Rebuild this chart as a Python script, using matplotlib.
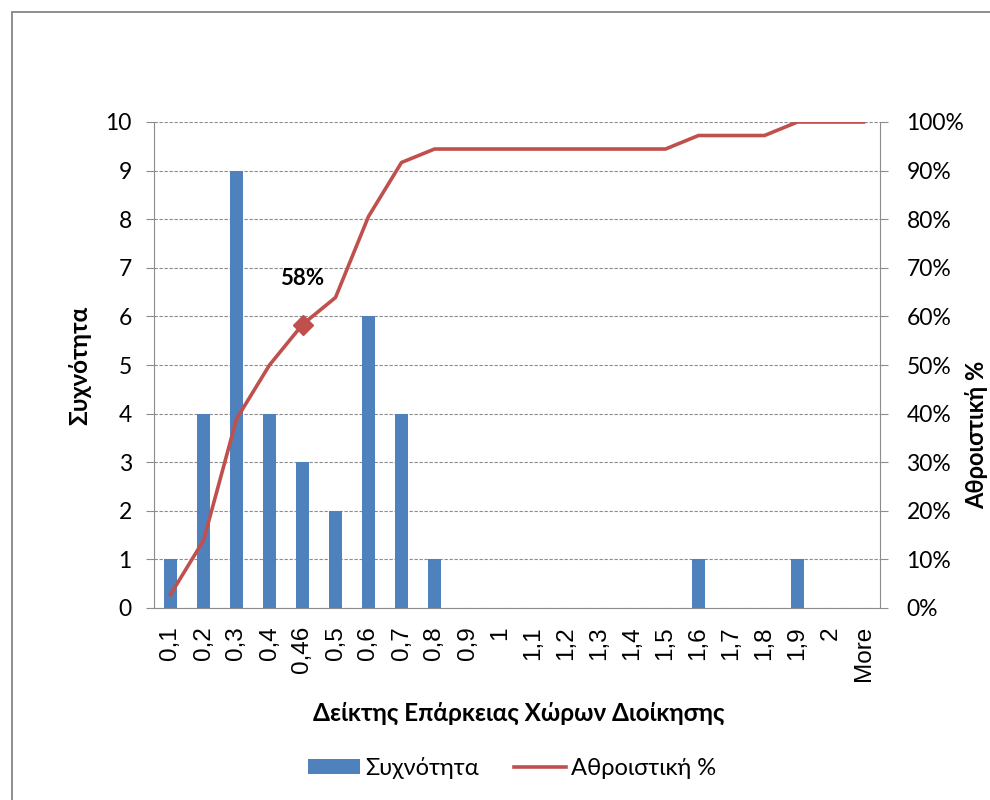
import numpy as np
import matplotlib.pyplot as plt
from matplotlib.patches import Rectangle

# =============================================================================
# Data
# =============================================================================
bins = ['0,1', '0,2', '0,3', '0,4', '0,46', '0,5', '0,6', '0,7', '0,8', '0,9', '1',
        '1,1', '1,2', '1,3', '1,4', '1,5', '1,6', '1,7', '1,8', '1,9', '2', 'More']
freq = [1, 4, 9, 4, 3, 2, 6, 4, 1, 0, 0, 0, 0, 0, 0, 0, 1, 0, 0, 1, 0, 0]
cum_pct = [2.78, 13.89, 38.89, 50.0, 58.33, 63.89, 80.56, 91.67, 94.44, 94.44, 94.44,
           94.44, 94.44, 94.44, 94.44, 94.44, 97.22, 97.22, 97.22, 100.0, 100.0, 100.0]
label_idx = 4
label_txt = '58%'

bar_col = '#4F81BD'
line_col = '#C0504D'
grid_col = '#8C8C8C'
font = 'Lato'

fig = plt.figure(figsize=(9.9, 8), dpi=100)
# outer chart border (runs off the right/bottom edge like the screenshot)
fig.patches.append(Rectangle((12 / 990, -0.2), 2.0, 1.2 - 12 / 800,
                             transform=fig.transFigure, fill=False,
                             edgecolor='#868686', linewidth=1.3))

ax = fig.add_axes([154 / 990, 1 - 608 / 800, 726 / 990, 486 / 800])
x = np.arange(len(bins))
ax.bar(x, freq, width=0.4, color=bar_col, zorder=3, label='Συχνότητα')
ax.set_xlim(-0.5, len(bins) - 0.5)
ax.set_ylim(0, 10)
ax.set_yticks(range(0, 11))
ax.set_yticklabels([str(v) for v in range(0, 11)], fontsize=16.5, family=font)
ax.yaxis.grid(True, linestyle=(0, (3, 1.5)), color=grid_col, linewidth=0.8, zorder=0)
ax.set_xticks(x)
ax.set_xticklabels(bins, rotation=90, fontsize=17.5, family='Liberation Sans')
ax.tick_params(axis='x', length=0, pad=13)
ax.tick_params(axis='y', length=6, color=grid_col, pad=10)
for s in ['top', 'right']:
    ax.spines[s].set_visible(False)
for s in ['left', 'bottom']:
    ax.spines[s].set_color(grid_col)
ax.set_ylabel('Συχνότητα', fontsize=17.5, fontweight='bold', family=font)
ax.yaxis.set_label_coords((80 - 154) / 726, 0.5)
ax.set_xlabel('Δείκτης Επάρκειας Χώρων Διοίκησης', fontsize=17.5, fontweight='bold',
              family=font)
ax.xaxis.set_label_coords((519 - 154) / 726, (608 - 713) / 486)
ax.xaxis.label.set_va('center')
ax.yaxis.label.set_va('center')

ax2 = ax.twinx()
ax2.plot(x, cum_pct, color=line_col, linewidth=2.6, zorder=4, label='Αθροιστική %')
ax2.plot(x[label_idx], cum_pct[label_idx], marker='D', markersize=10, color=line_col, zorder=5)
ax2.annotate(label_txt, (x[label_idx], cum_pct[label_idx]), xytext=(0, 33),
             textcoords='offset points', ha='center', va='center', fontsize=16,
             fontweight='bold', family=font)
ax2.set_ylim(0, 100)
ax2.set_yticks(range(0, 101, 10))
ax2.set_yticklabels([f'{v}%' for v in range(0, 101, 10)], fontsize=16.5, family=font)
ax2.tick_params(axis='y', length=6, color=grid_col, pad=13)
for s in ['top', 'left', 'bottom']:
    ax2.spines[s].set_visible(False)
ax2.spines['right'].set_color(grid_col)

fig.text(988 / 990, 365 / 800, 'Αθροιστική %', rotation=90, ha='right', va='center',
         fontsize=17, fontweight='bold', family=font)

h1, l1 = ax.get_legend_handles_labels()
h2, l2 = ax2.get_legend_handles_labels()
fig.legend(h1 + h2, l1 + l2, loc='center', bbox_to_anchor=(512 / 990, 1 - 768 / 800),
           ncol=2, frameon=False, prop={'family': font, 'size': 17},
           handlelength=2.2, handleheight=0.6, handletextpad=0.2, columnspacing=1.5)

fig.savefig('out.png', dpi=100)
